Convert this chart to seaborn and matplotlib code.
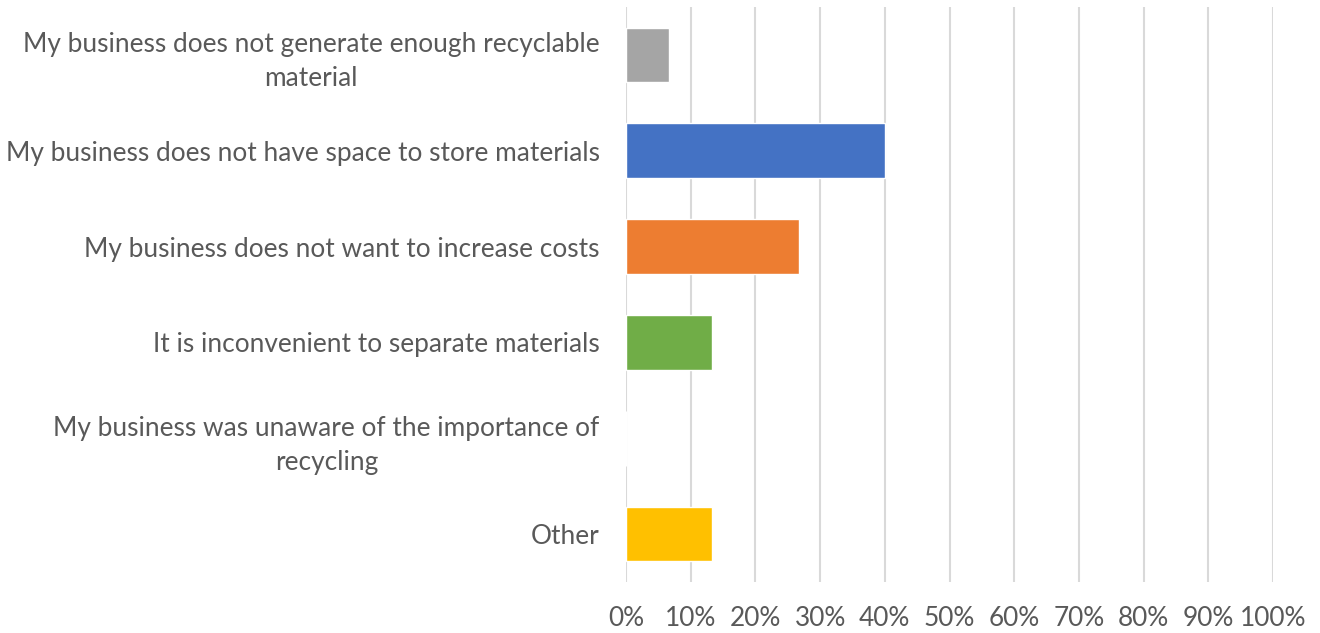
import matplotlib
matplotlib.use("Agg")
import matplotlib.pyplot as plt
import seaborn as sns
import pandas as pd
from matplotlib.ticker import PercentFormatter

categories = [
    "My business does not generate enough recyclable\nmaterial",
    "My business does not have space to store materials",
    "My business does not want to increase costs",
    "It is inconvenient to separate materials",
    "My business was unaware of the importance of\nrecycling",
    "Other",
]
values = [6.67, 40.0, 26.67, 13.33, 0.0, 13.33]
colors = ["#A5A5A5", "#4472C4", "#ED7D31", "#70AD47", "#5B9BD5", "#FFC000"]
xticks = list(range(0, 101, 10))

sns.set_theme(style="white")
plt.rcParams["font.family"] = ["Lato", "DejaVu Sans"]

df = pd.DataFrame({"category": categories, "value": values})

fig = plt.figure(figsize=(13.2, 6.33), dpi=100)
ax = fig.add_axes([626 / 1320, 51 / 633, (1273 - 626) / 1320, (626 - 51) / 633])

sns.barplot(data=df, y="category", x="value", hue="category", palette=colors,
            order=categories, hue_order=categories, width=0.57, legend=False,
            saturation=1, ax=ax, zorder=3)

ax.set_xlim(0, 100)
ax.set_xticks(xticks)
ax.xaxis.set_major_formatter(PercentFormatter(decimals=0))
ax.grid(axis="x", color="#D9D9D9", linewidth=1.5, zorder=0)
ax.grid(axis="y", visible=False)
for s in ax.spines.values():
    s.set_visible(False)
ax.set_xlabel("")
ax.set_ylabel("")
ax.tick_params(axis="x", length=0, pad=17, labelsize=18.9, labelcolor="#595959")
ax.tick_params(axis="y", length=0, pad=19, labelsize=18.9, labelcolor="#595959")
for lab in ax.get_yticklabels():
    lab.set_multialignment("center")
    lab.set_linespacing(1.45)

fig.savefig("out.png", dpi=100)
